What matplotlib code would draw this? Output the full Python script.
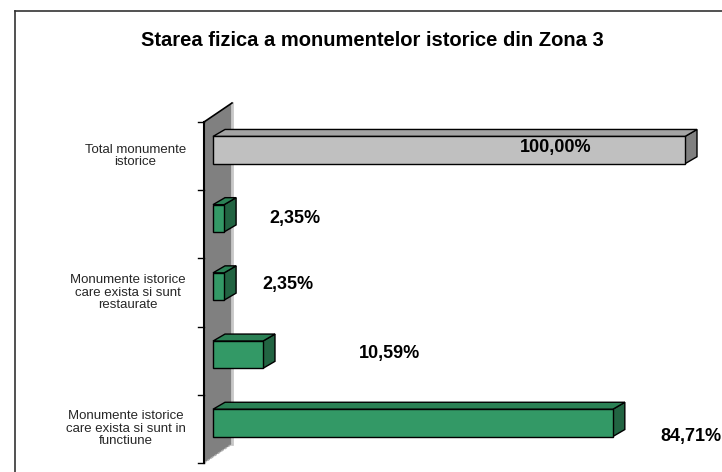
import matplotlib.pyplot as plt
from matplotlib.patches import Polygon
from matplotlib.lines import Line2D
from matplotlib import transforms

plt.rcParams['font.family'] = ['Liberation Sans', 'DejaVu Sans']

categories = [
    "Total monumente\nistorice",
    "",
    "Monumente istorice\ncare exista si sunt\nrestaurate",
    "",
    "Monumente istorice\ncare exista si sunt in\nfunctiune",
]
values = [100.00, 2.35, 2.35, 10.59, 84.71]
value_labels = ["100,00%", "2,35%", "2,35%", "10,59%", "84,71%"]
title = "Starea fizica a monumentelor istorice din Zona 3"

# face colours: front, top, side
grey_faces = ("#c0c0c0", "#a4a4a4", "#808080")
green_faces = ("#339966", "#2b8155", "#226442")
bar_faces = [grey_faces, green_faces, green_faces, green_faces, green_faces]

# where the value labels sit (x in %, y shift in px)
label_x = [72.5, 17.4, 15.9, 37.5, 101.2]
label_dy = [3, 0, 2, 1, -14]

W, H = 722, 472
fig = plt.figure(figsize=(W / 100, H / 100), dpi=100)
ax = fig.add_axes([213 / W, 9 / H, 472 / W, 341 / H])
n = len(values)
ax.set_xlim(0, 100)
ax.set_ylim(n - 0.5, -0.5)
ax.axis('off')


def px(dx, dy):
    # convert a pixel offset into data units
    inv = ax.transData.inverted()
    x0, y0 = inv.transform((0, 0))
    x1, y1 = inv.transform((dx, dy))
    return x1 - x0, y1 - y0


# back wall
gap, _ = px(9, 0)
wdx, wdy = px(28, 19)
wx = -gap
ytop, ybot = -0.5, n - 0.5
ax.add_patch(Polygon([(wx, ytop), (wx + wdx, ytop + wdy), (wx + wdx, ybot + wdy), (wx, ybot)],
                     closed=True, facecolor="#808080", edgecolor="none", clip_on=False, zorder=1))
ax.plot([wx + wdx, wx + wdx], [ytop + wdy, ybot + wdy], color="#c8c8c8", lw=2, clip_on=False, zorder=1)
ax.plot([wx, wx + wdx], [ybot, ybot + wdy], color="#b0b0b0", lw=1, ls=(0, (2, 1)), clip_on=False, zorder=1)
ax.plot([wx, wx + wdx], [ytop, ytop + wdy], color="black", lw=1.2, clip_on=False, zorder=2)
ax.plot([wx, wx], [ytop, ybot], color="black", lw=1.5, clip_on=False, zorder=2)
tk, _ = px(6, 0)
for k in range(n + 1):
    ax.plot([wx - tk, wx], [k - 0.5, k - 0.5], color="black", lw=1, clip_on=False, zorder=2)

# 3d bars
bh = 0.40
shift = px(0, 6)[1]
bdx, bdy = px(12, 7)
for i, v in enumerate(values):
    front, top, side = bar_faces[i]
    yc = i + shift
    y0, y1 = yc - bh / 2, yc + bh / 2
    kw = dict(closed=True, edgecolor="black", lw=1, clip_on=False, zorder=3)
    ax.add_patch(Polygon([(v, y0), (v + bdx, y0 + bdy), (v + bdx, y1 + bdy), (v, y1)], facecolor=side, **kw))
    ax.add_patch(Polygon([(0, y0), (bdx, y0 + bdy), (v + bdx, y0 + bdy), (v, y0)], facecolor=top, **kw))
    ax.add_patch(Polygon([(0, y0), (v, y0), (v, y1), (0, y1)], facecolor=front, **kw))
    ly = yc + px(0, label_dy[i])[1]
    ax.text(label_x[i], ly, value_labels[i], ha="center", va="center",
            fontsize=13, fontweight="bold", color="black", zorder=4, clip_on=False)

# category labels
blend = transforms.blended_transform_factory(fig.transFigure, ax.transData)
for i, c in enumerate(categories):
    if c:
        ax.text(186 / W, i, c, transform=blend, ha="right", va="center", multialignment="center",
                fontsize=9.5, linespacing=1.05, color="#262626")

fig.text(372 / W, 1 - 41 / H, title, ha="center", va="center", fontsize=14.5, fontweight="bold")

# outer frame
fig.add_artist(Line2D([15 / W, 1], [1 - 11 / H, 1 - 11 / H], color="#333333", lw=1.2))
fig.add_artist(Line2D([15 / W, 15 / W], [0, 1 - 11 / H], color="#333333", lw=1.2))

fig.savefig("out.png", dpi=100)
